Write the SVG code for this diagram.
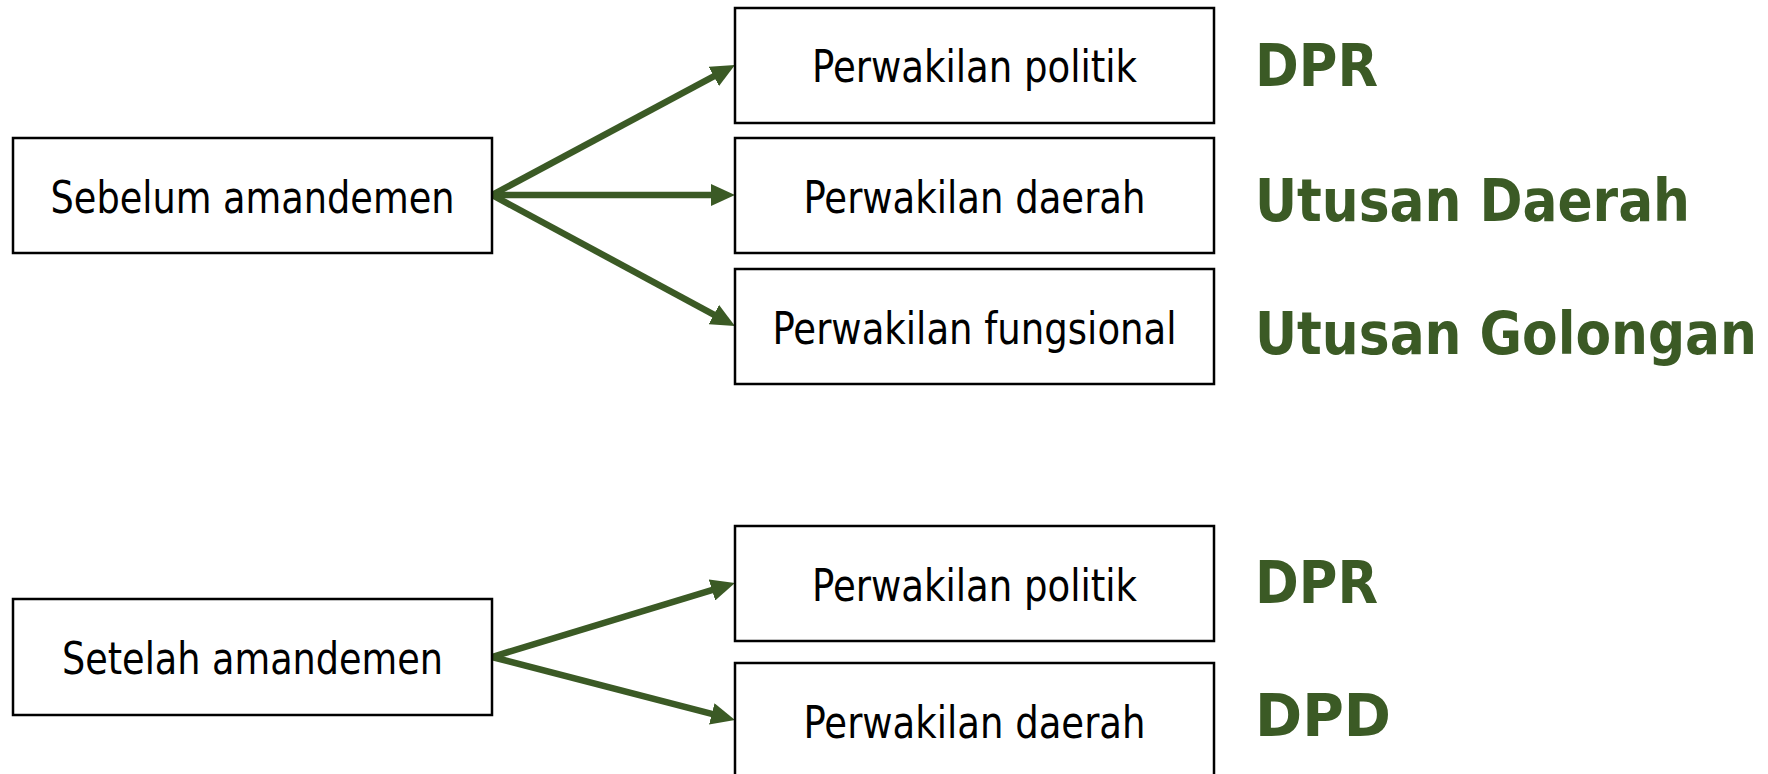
<svg xmlns="http://www.w3.org/2000/svg" width="1768" height="774" viewBox="0 0 1768 774">
<style>
.box{fill:#fff;stroke:#000;stroke-width:2.5}
.lbl{font-family:"DejaVu Sans Condensed","DejaVu Sans",sans-serif;font-stretch:condensed;font-size:44px;fill:#000;text-anchor:middle}
.grn{font-family:"DejaVu Sans Condensed","DejaVu Sans",sans-serif;font-stretch:condensed;font-weight:bold;font-size:59px;fill:#3b5a25}
.conn{stroke:#3b5a25;stroke-width:6.5;fill:none;marker-end:url(#ah)}
</style>
<defs>
<marker id="ah" markerUnits="userSpaceOnUse" markerWidth="24" markerHeight="22" refX="11" refY="11" orient="auto" viewBox="0 0 24 22">
<path d="M0,0 L24,11 L0,22 z" fill="#3b5a25"/>
</marker>
</defs>
<rect width="1768" height="774" fill="#fff"/>
<g id="connectors">
<line class="conn" x1="492" y1="195" x2="723.5" y2="71.2"/>
<line class="conn" x1="492" y1="195" x2="722" y2="195"/>
<line class="conn" x1="492" y1="195" x2="723.5" y2="319.8"/>
<line class="conn" x1="492" y1="657" x2="722.5" y2="586.8"/>
<line class="conn" x1="492" y1="657" x2="722.4" y2="716.7"/>
</g>
<g id="sebelum">
<rect class="box" x="13" y="138" width="479" height="115"/>
<text class="lbl" x="252.5" y="213" textLength="404" lengthAdjust="spacingAndGlyphs">Sebelum amandemen</text>
</g>
<g id="top-politik">
<rect class="box" x="735" y="8" width="479" height="115"/>
<text class="lbl" x="974.5" y="82" textLength="325" lengthAdjust="spacingAndGlyphs">Perwakilan politik</text>
</g>
<g id="top-daerah">
<rect class="box" x="735" y="138" width="479" height="115"/>
<text class="lbl" x="974.5" y="213" textLength="342" lengthAdjust="spacingAndGlyphs">Perwakilan daerah</text>
</g>
<g id="top-fungsional">
<rect class="box" x="735" y="269" width="479" height="115"/>
<text class="lbl" x="974.5" y="344" textLength="404" lengthAdjust="spacingAndGlyphs">Perwakilan fungsional</text>
</g>
<g id="setelah">
<rect class="box" x="13" y="599" width="479" height="116"/>
<text class="lbl" x="252.5" y="674" textLength="381" lengthAdjust="spacingAndGlyphs">Setelah amandemen</text>
</g>
<g id="bot-politik">
<rect class="box" x="735" y="526" width="479" height="115"/>
<text class="lbl" x="974.5" y="601" textLength="325" lengthAdjust="spacingAndGlyphs">Perwakilan politik</text>
</g>
<g id="bot-daerah">
<rect class="box" x="735" y="663" width="479" height="115"/>
<text class="lbl" x="974.5" y="738" textLength="342" lengthAdjust="spacingAndGlyphs">Perwakilan daerah</text>
</g>
<g id="labels">
<text class="grn" x="1255" y="86" textLength="123" lengthAdjust="spacingAndGlyphs">DPR</text>
<text class="grn" x="1255" y="221" textLength="435" lengthAdjust="spacingAndGlyphs">Utusan Daerah</text>
<text class="grn" x="1255" y="354" textLength="502" lengthAdjust="spacingAndGlyphs">Utusan Golongan</text>
<text class="grn" x="1255" y="603" textLength="123" lengthAdjust="spacingAndGlyphs">DPR</text>
<text class="grn" x="1255" y="736" textLength="136" lengthAdjust="spacingAndGlyphs">DPD</text>
</g>
</svg>
